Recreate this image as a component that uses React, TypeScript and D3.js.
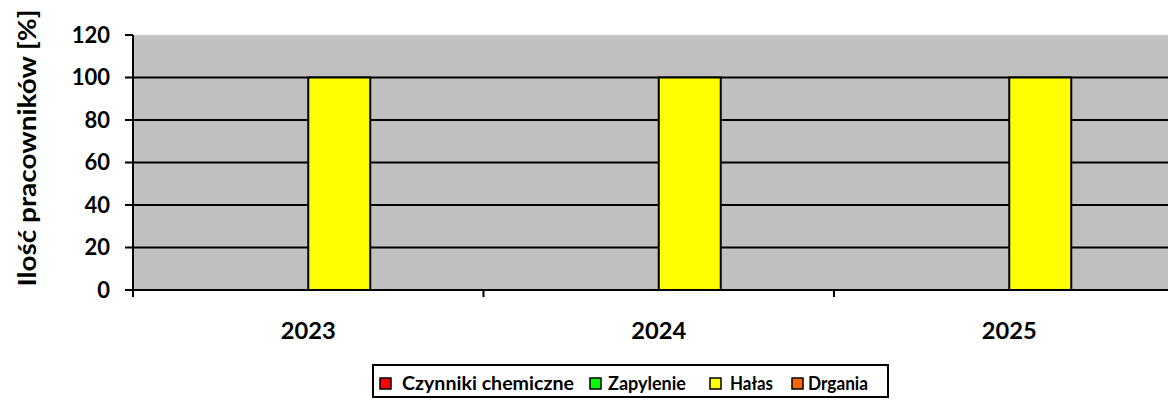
import React from "react";
import * as d3 from "d3";

const categories = ["2023", "2024", "2025"];
const seriesNames = ["Czynniki chemiczne", "Zapylenie", "Hałas", "Drgania"];
const seriesColors = ["#FF0000", "#00FF00", "#FFFF00", "#FF6600"];
const chemValues = [0, 0, 0];
const dustValues = [0, 0, 0];
const noiseValues = [100, 100, 100];
const vibrationValues = [0, 0, 0];
const yTicks = [0, 20, 40, 60, 80, 100, 120];
const yTitle = "Ilość pracowników [%]";

const seriesValues = [chemValues, dustValues, noiseValues, vibrationValues];

const W = 1168;
const H = 400;
const left = 133;
const top = 35;
const bottom = 290;
const bandW = 350.5;
const FONT = "Lato, 'Open Sans', sans-serif";

const legendX = [380, 590, 710, 792];
const legendTextX = [402, 608, 730, 808];
const legendTextW = [172, 78, 43, 60];

export default function App() {
  const x0 = d3
    .scaleBand<string>()
    .domain(categories)
    .range([left, left + bandW * categories.length])
    .padding(0);
  const x1 = d3
    .scaleBand<string>()
    .domain(seriesNames)
    .range([51.25, bandW - 51.25])
    .padding(0);
  const y = d3.scaleLinear().domain([0, 120]).range([bottom, top]);
  const right = left + bandW * categories.length;

  return (
    <svg
      width={W}
      height={H}
      style={{ position: "absolute", left: 0, top: 0, display: "block" }}
      fontFamily={FONT}
    >
      <rect x={0} y={0} width={W} height={H} fill="#ffffff" />
      <rect x={left} y={top} width={right - left} height={bottom - top} fill="#C0C0C0" />
      <line x1={left} x2={right} y1={top} y2={top} stroke="#d9d9d9" strokeWidth={1} />
      {yTicks.slice(1, -1).map((t) => (
        <line key={"g" + t} x1={left} x2={right} y1={y(t)} y2={y(t)} stroke="#000" strokeWidth={2} />
      ))}
      {categories.map((c, ci) =>
        seriesNames.map((s, si) => {
          const v = seriesValues[si][ci];
          if (v <= 0) return null;
          const bx = (x0(c) as number) + (x1(s) as number);
          return (
            <rect
              key={c + s}
              x={bx}
              y={y(v)}
              width={x1.bandwidth()}
              height={y(0) - y(v)}
              fill={seriesColors[si]}
              stroke="#000"
              strokeWidth={2}
            />
          );
        })
      )}
      {/* y axis */}
      <line x1={left} x2={left} y1={top} y2={bottom + 7} stroke="#000" strokeWidth={2} />
      <line x1={left - 8} x2={right} y1={bottom} y2={bottom} stroke="#000" strokeWidth={2} />
      {yTicks.map((t) => (
        <g key={"t" + t}>
          <line x1={left - 8} x2={left} y1={y(t)} y2={y(t)} stroke="#000" strokeWidth={2} />
          <text
            x={110}
            y={y(t)}
            dy="0.36em"
            textAnchor="end"
            fontSize={22}
            fontWeight="bold"
            fill="#000"
          >
            {t}
          </text>
        </g>
      ))}
      {categories.map((c, i) => (
        <line
          key={"ct" + c}
          x1={left + bandW * i}
          x2={left + bandW * i}
          y1={bottom}
          y2={bottom + 7}
          stroke="#000"
          strokeWidth={2}
        />
      ))}
      {categories.map((c) => (
        <text
          key={"cl" + c}
          x={(x0(c) as number) + x0.bandwidth() / 2}
          y={331}
          dy="0.36em"
          textAnchor="middle"
          fontSize={22}
          fontWeight="bold"
          fill="#000"
          textLength={55}
          lengthAdjust="spacingAndGlyphs"
        >
          {c}
        </text>
      ))}
      <text
        transform={`translate(27,${148}) rotate(-90)`}
        dy="0.36em"
        textAnchor="middle"
        fontSize={25}
        fontWeight="bold"
        fill="#000"
        textLength={277}
        lengthAdjust="spacingAndGlyphs"
      >
        {yTitle}
      </text>
      {/* legend */}
      <rect x={373} y={365} width={515} height={32} fill="#fff" stroke="#000" strokeWidth={2} />
      {seriesNames.map((s, i) => (
        <g key={"lg" + s}>
          <rect
            x={legendX[i]}
            y={378}
            width={11}
            height={11}
            fill={seriesColors[i]}
            stroke="#000"
            strokeWidth={1.5}
          />
          <text
            x={legendTextX[i]}
            y={384}
            dy="0.36em"
            fontSize={18}
            fontWeight="bold"
            fill="#000"
            textLength={legendTextW[i]}
            lengthAdjust="spacingAndGlyphs"
          >
            {s}
          </text>
        </g>
      ))}
    </svg>
  );
}
